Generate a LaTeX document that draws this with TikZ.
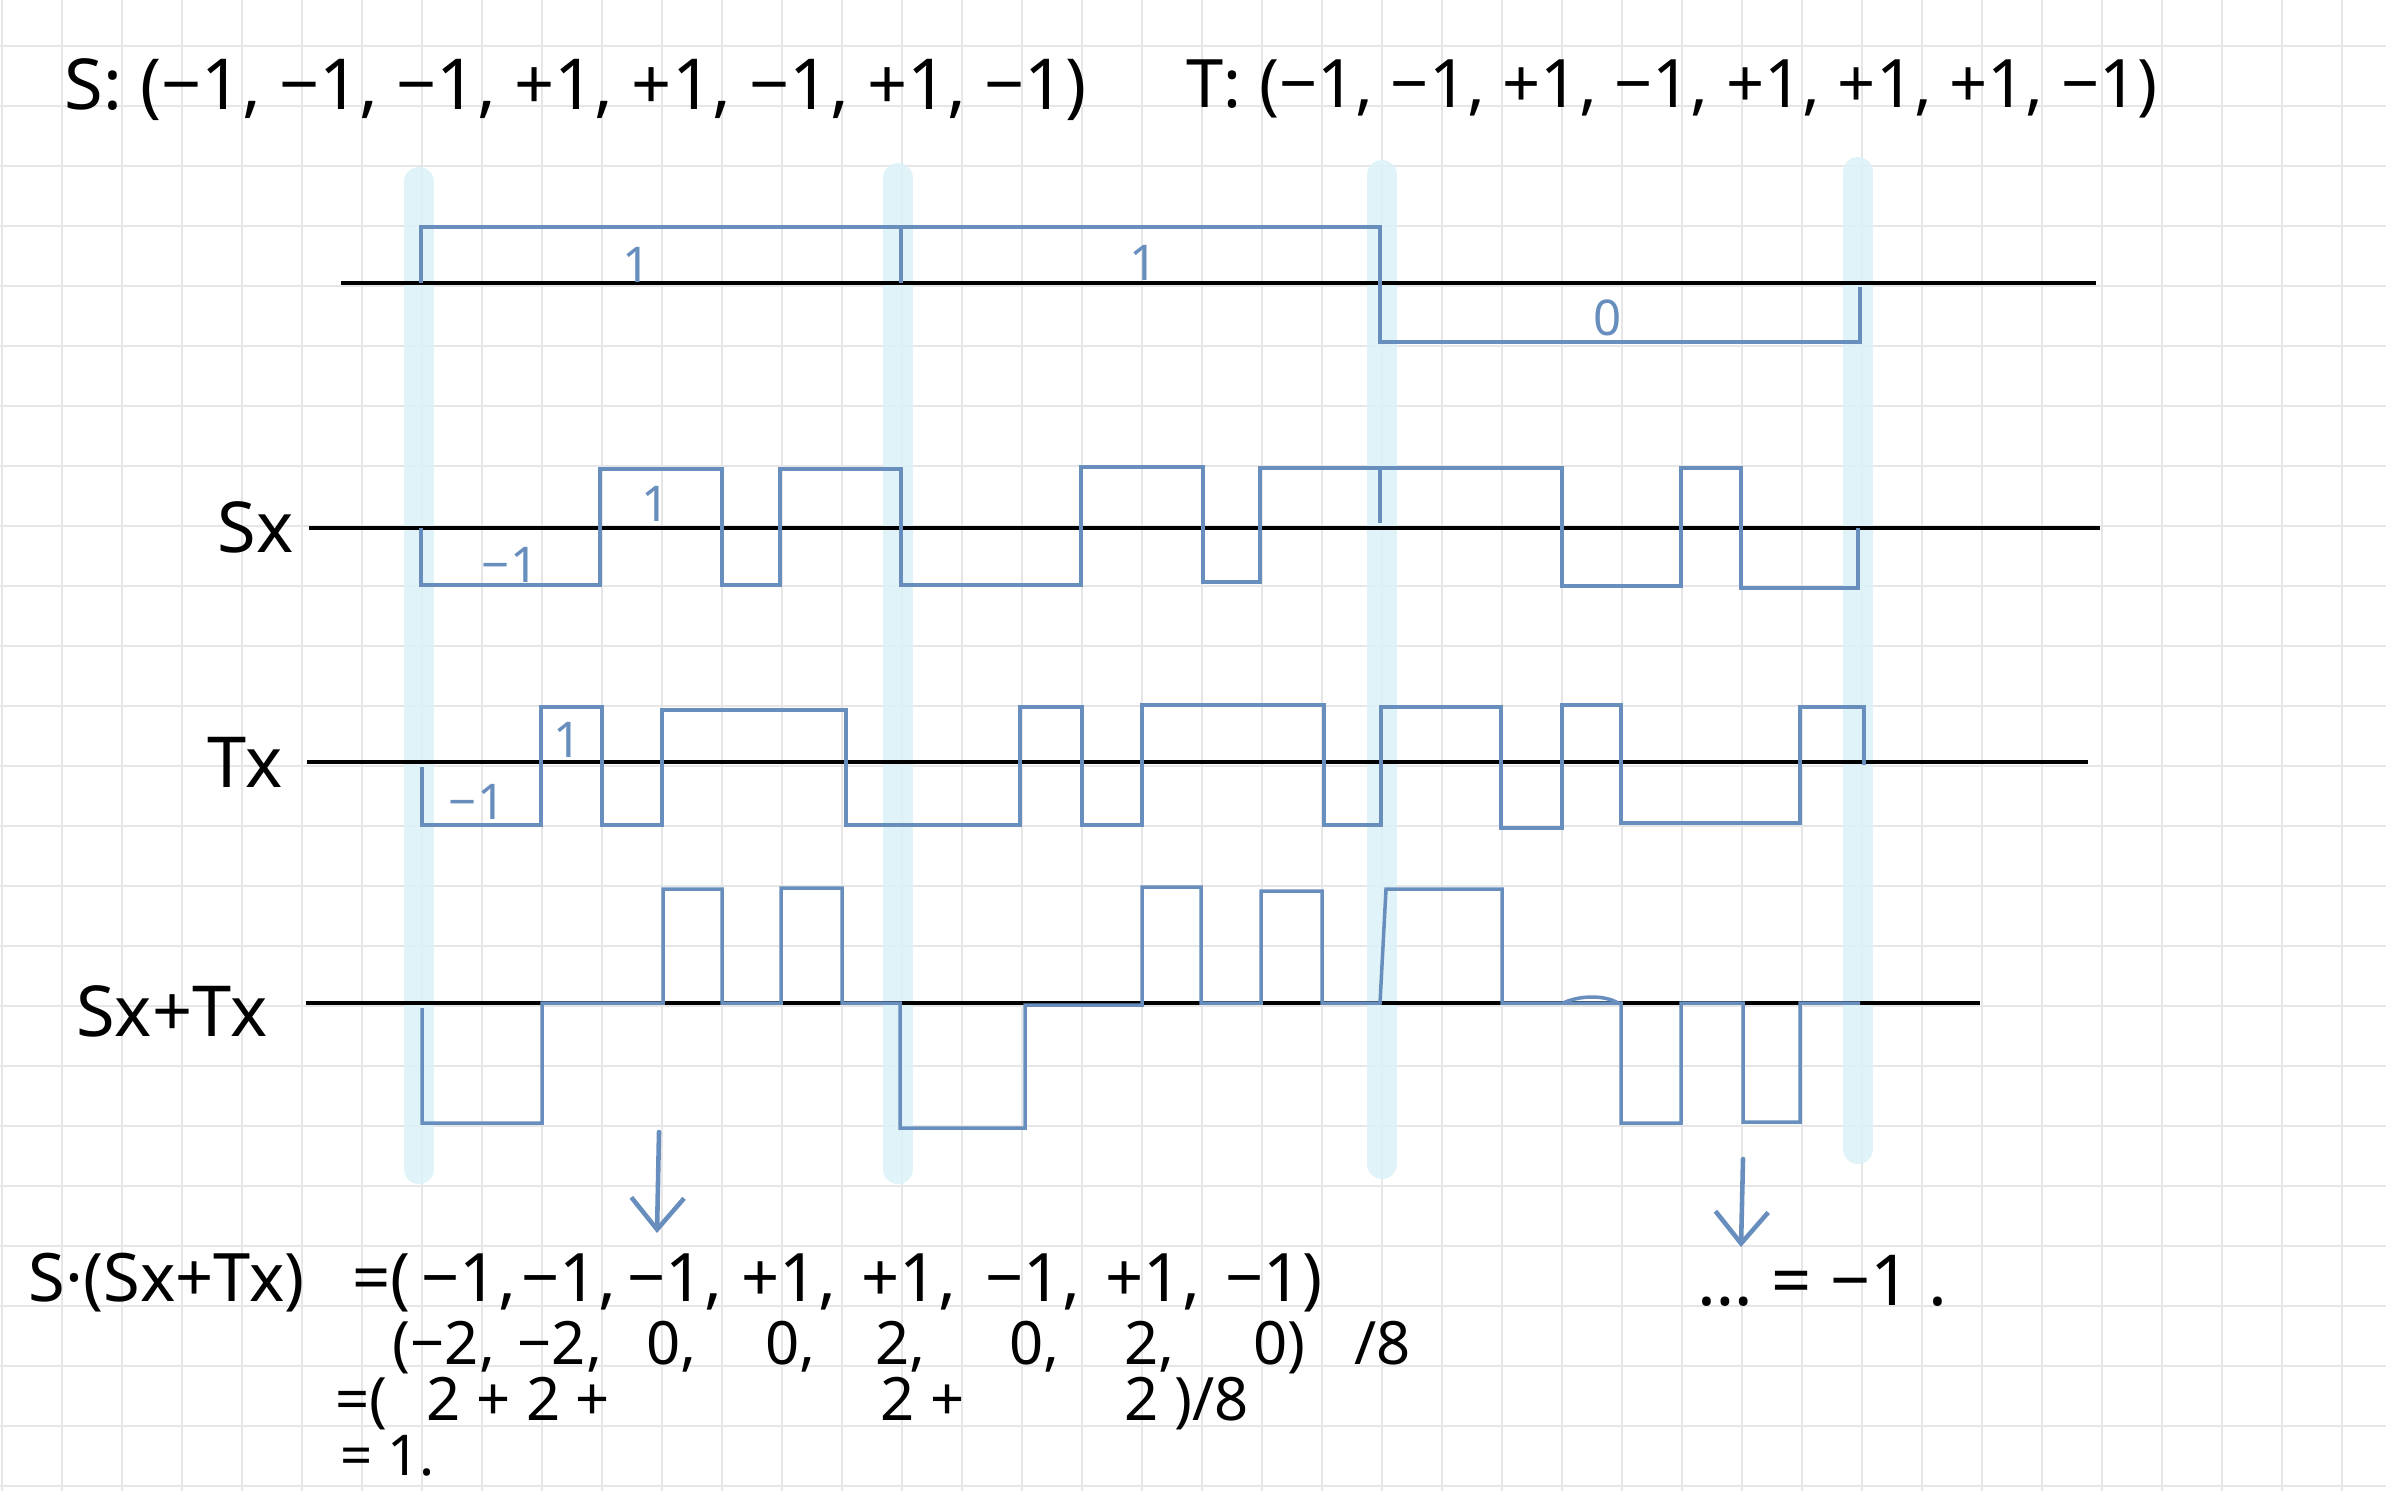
\documentclass[tikz,border=0pt]{standalone}
\usepackage{fontspec}
\setmainfont{Noto Sans}
\usetikzlibrary{arrows.meta}
\definecolor{wave}{RGB}{104,142,189}
\definecolor{band}{RGB}{221,242,248}
\definecolor{paper}{RGB}{230,230,230}

\begin{document}
\begin{tikzpicture}[x=0.01cm,y=-0.01cm,
  every node/.style={font=\fontsize{20}{24}\selectfont,inner sep=0pt},
  gridline/.style={draw=paper,line width=0.6pt},
  axis/.style={draw=black,line width=1.1pt},
  sig/.style={draw=wave,line width=1pt},
  marker/.style={draw=band,line width=8.5pt,line cap=round,opacity=0.9},
  val/.style={font=\fontsize{14}{16}\selectfont,text=wave},
  txt/.style={anchor=base west},
  calc/.style={txt,font=\fontsize{17}{19}\selectfont},
  lab/.style={anchor=base east},
  down/.style={draw=wave,line width=1.3pt,line cap=round,
    -{Straight Barb[length=9pt,width=15pt,line width=1.3pt]}}]
\fill[white] (0,0) rectangle (2386,1491);
\useasboundingbox (0,0) rectangle (2386,1491);
\foreach \gx in {2,62,...,2342} \draw[gridline] (\gx,0) -- (\gx,1491);
\foreach \gy in {46,106,...,1486} \draw[gridline] (0,\gy) -- (2386,\gy);
\draw[marker] (419,182) -- (419,1169);
\draw[marker] (898,178) -- (898,1169);
\draw[marker] (1382,175) -- (1382,1164);
\draw[marker] (1858,172) -- (1858,1149);
\node[txt] (stuple) at (64,110) {S: (−1, −1, −1, +1, +1, −1, +1, −1)};
\node[txt,font=\fontsize{19}{22}\selectfont] (ttuple) at (1186,108)
  {T: (−1, −1, +1, −1, +1, +1, +1, −1)};
\draw[axis] (341,283) -- (2096,283);
\draw[axis] (309,528) -- (2100,528);
\draw[axis] (307,762) -- (2088,762);
\draw[axis] (306,1003) -- (1980,1003);
\node[lab] (sxlab) at (294,552) {Sx};
\node[lab] (txlab) at (283,787) {Tx};
\node[lab] (sumlab) at (268,1036) {Sx+Tx};
\draw[sig] (421,283) -- (421,227) -- (1380,227) -- (1380,342) -- (1860,342)
  -- (1860,287);
\draw[sig] (901,227) -- (901,283);
\node[val] (bitA) at (637,265) {1};
\node[val] (bitB) at (1144,263) {1};
\node[val] (bitC) at (1608,318) {0};
\draw[sig] (421,528) -- (421,585) -- (600,585) -- (600,469) -- (722,469)
  -- (722,585) -- (780,585) -- (780,469) -- (901,469) -- (901,585)
  -- (1081,585) -- (1081,467) -- (1203,467) -- (1203,582) -- (1260,582)
  -- (1260,468) -- (1562,468) -- (1562,586) -- (1681,586) -- (1681,468)
  -- (1741,468) -- (1741,588) -- (1858,588) -- (1858,528);
\draw[sig] (1380,468) -- (1380,523);
\node[val] (sxone) at (656,504) {1};
\node[val] (sxminus) at (510,565) {−1};
\draw[sig] (422,767) -- (422,825) -- (541,825) -- (541,707) -- (602,707)
  -- (602,825) -- (662,825) -- (662,710) -- (846,710) -- (846,825)
  -- (1020,825) -- (1020,707) -- (1082,707) -- (1082,825) -- (1142,825)
  -- (1142,705) -- (1324,705) -- (1324,825) -- (1381,825) -- (1381,707)
  -- (1501,707) -- (1501,828) -- (1562,828) -- (1562,705) -- (1621,705)
  -- (1621,823) -- (1800,823) -- (1800,707) -- (1864,707) -- (1864,765);
\node[val] (txone) at (568,740) {1};
\node[val] (txminus) at (477,802) {−1};
\draw[sig] (422,1008) -- (422,1123) -- (542,1123) -- (542,1003) -- (663,1003)
  -- (663,889) -- (722,889) -- (722,1003) -- (781,1003) -- (781,888)
  -- (842,888) -- (842,1003) -- (900,1003) -- (900,1128) -- (1025,1128)
  -- (1025,1005) -- (1142,1005) -- (1142,887) -- (1201,887) -- (1201,1003)
  -- (1261,1003) -- (1261,891) -- (1322,891) -- (1322,1003) -- (1380,1003)
  -- (1386,889) -- (1502,889) -- (1502,1003) -- (1621,1003) -- (1621,1123)
  -- (1681,1123) -- (1681,1003) -- (1743,1003) -- (1743,1122) -- (1800,1122)
  -- (1800,1003) -- (1860,1003);
\draw[sig] (1563,1003) .. controls (1580,995) and (1605,995) .. (1618,1003);
\coordinate (arrAtop) at (659,1132);
\coordinate (arrAbot) at (657,1233);
\coordinate (arrBtop) at (1743,1159);
\coordinate (arrBbot) at (1741,1247);
\draw[down] (arrAtop) -- (arrAbot);
\draw[down] (arrBtop) -- (arrBbot);
\node[txt,font=\fontsize{19}{22}\selectfont] (dotlab) at (28,1301) {S·(Sx+Tx)};
\foreach \px/\pt [count=\i] in {352/{=(},421/{−1,},521/{−1,},627/{−1,},
  741/{+1,},861/{+1,},985/{−1,},1105/{+1,},1225/{−1)}}
  \node[txt,font=\fontsize{19}{22}\selectfont] (code-\i) at (\px,1301) {\pt};
\foreach \px/\pt [count=\i] in {392/{(−2,},517/{−2,},646/{0,},765/{0,},
  875/{2,},1009/{0,},1124/{2,},1253/{0)},1354/{/8}}
  \node[calc] (prod-\i) at (\px,1364) {\pt};
\foreach \px/\pt [count=\i] in {335/{=(},426/{2 + 2 +},880/{2 +},1124/{2 )/8}}
  \node[calc] (sum-\i) at (\px,1420) {\pt};
\node[calc,font=\fontsize{16}{18}\selectfont] (result) at (340,1475) {= 1.};
\node[txt] (other) at (1697,1305) {\ldots{} = −1 .};
\end{tikzpicture}
\end{document}
